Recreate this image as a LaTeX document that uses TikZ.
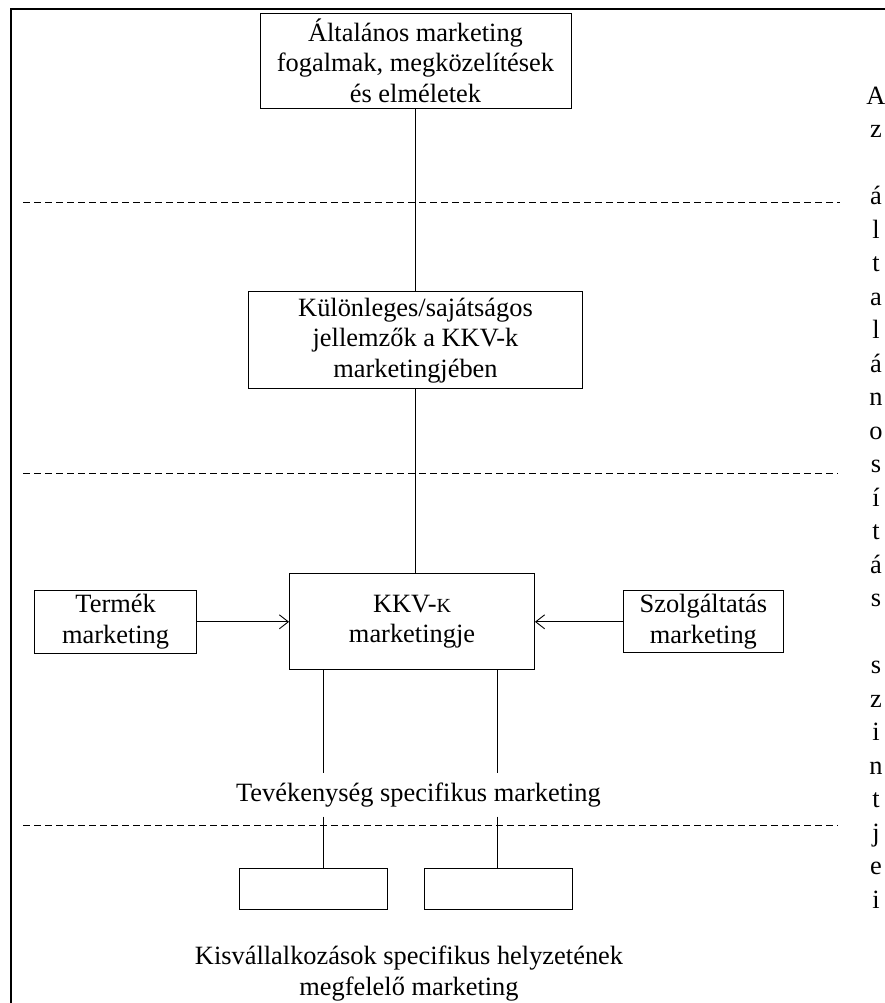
\documentclass[tikz,border=0pt]{standalone}
\usepackage{fontspec}
\setmainfont{Liberation Serif}
\usetikzlibrary{arrows.meta,positioning}
\newcommand{\bigtext}{\fontsize{26.4}{30.4}\selectfont}
\tikzset{
  >={Straight Barb[length=9pt,width=14pt]},
  block/.style={draw, line width=0.9pt, align=center, inner sep=0pt, font=\bigtext},
  label/.style={align=center, inner sep=0pt, font=\bigtext},
  link/.style={line width=0.9pt},
  sep/.style={line width=0.9pt, dash pattern=on 7pt off 4pt},
}

\begin{document}
\begin{tikzpicture}[x=1pt, y=-1pt]
  \useasboundingbox (0,0) rectangle (884,1003);
  \draw[line width=2.7pt] (890,9) -- (11,9) -- (11,1010);

  \node[block, minimum width=311pt, minimum height=95pt] (altal) at (415.5,60.5)
    {Általános marketing\\fogalmak, megközelítések\\és elméletek};
  \node[block, minimum width=334pt, minimum height=97pt, below=183pt of altal] (kulon)
    {Különleges/sajátságos\\jellemzők a KKV-k\\marketingjében};
  \node[block, minimum width=245pt, minimum height=96pt, below=184pt of kulon, xshift=-3.5pt] (kkv)
    {KKV-{\fontsize{20}{20}\selectfont K}\\marketingje};
  \node[block, minimum width=162pt, minimum height=63pt, left=92pt of kkv] (termek)
    {Termék\\marketing};
  \node[block, minimum width=160pt, minimum height=62pt, right=88pt of kkv] (szolg)
    {Szolgáltatás\\marketing};

  \node[label, minimum height=43pt, below=103pt of kkv, xshift=6.5pt] (tev)
    {Tevékenység specifikus marketing};
  \node[block, minimum width=148pt, minimum height=41pt, below=51pt of tev, xshift=-105.5pt] (smA) {};
  \node[block, minimum width=148pt, minimum height=41pt, right=37pt of smA] (smB) {};

  \node[label] (kis) at (409,973.5)
    {Kisvállalkozások specifikus helyzetének\\megfelelő marketing};

  \node[label, font=\fontsize{26.4}{33.5}\selectfont, anchor=north] (szint) at (876,86.5)
    {A\\z\\[33.5pt]á\\l\\t\\a\\l\\á\\n\\o\\s\\í\\t\\á\\s\\[33.5pt]s\\z\\i\\n\\t\\j\\e\\i};

  % levels
  \draw[sep] (23,202) -- (840,202);
  \draw[sep] (23,473) -- (838,473);
  \draw[sep] (23,825) -- (838,825);

  \draw[link] (altal.south) -- (altal.south |- kulon.north);
  \draw[link] (kulon.south) -- (kulon.south |- kkv.north);
  \draw[link,->] (termek.east) -- (termek.east -| kkv.west);
  \draw[link,->] (szolg.west) -- (szolg.west -| kkv.east);

  \draw[link] ([xshift=-89pt]kkv.south) -- ([xshift=-89pt]kkv.south |- tev.north);
  \draw[link] ([xshift=85pt]kkv.south) -- ([xshift=85pt]kkv.south |- tev.north);
  \draw[link] ([xshift=-89pt]kkv.south |- tev.south) -- ([xshift=-89pt]kkv.south |- smA.north);
  \draw[link] ([xshift=85pt]kkv.south |- tev.south) -- ([xshift=85pt]kkv.south |- smB.north);
\end{tikzpicture}
\end{document}
